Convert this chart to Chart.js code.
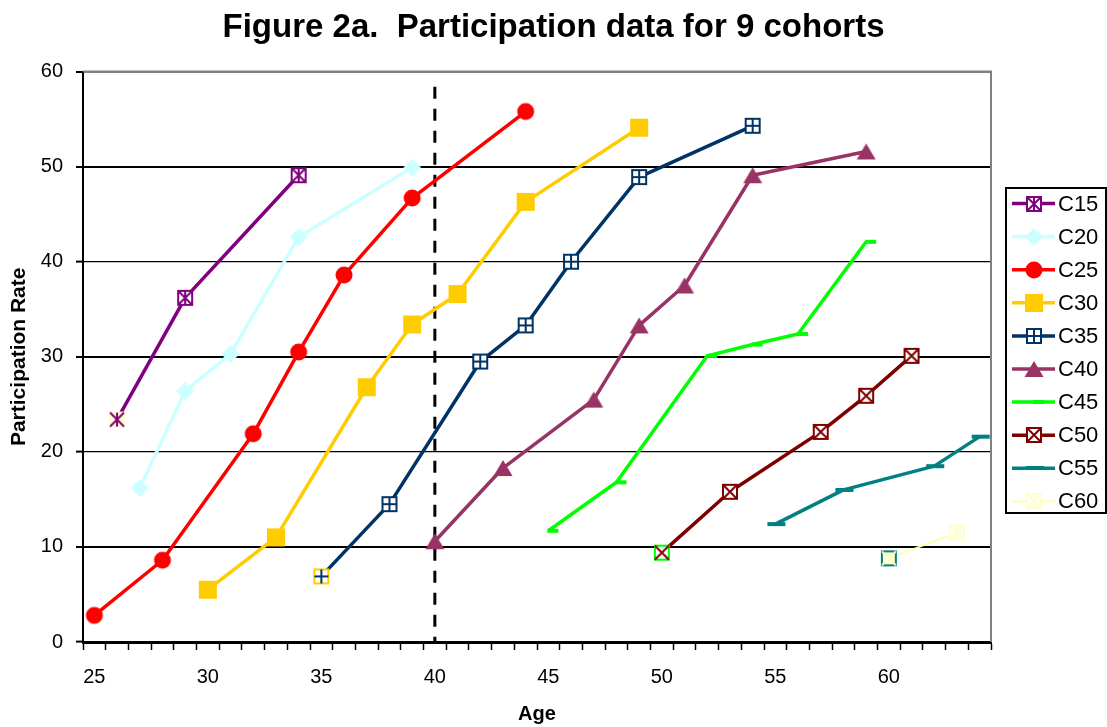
<!DOCTYPE html>
<html>
<head>
<meta charset="utf-8">
<title>Participation data for 9 cohorts</title>
<script src="https://cdn.jsdelivr.net/npm/chart.js@4.4.1/dist/chart.umd.min.js"></script>
<style>
  html, body { margin: 0; padding: 0; background: #ffffff; }
  #wrap { width: 1107px; height: 727px; position: relative; }
</style>
</head>
<body>
<div id="wrap"><canvas id="chart"></canvas></div>
<script>
// Age categories on the horizontal axis
const ageLabels = ['25','26','27','28','29','30','31','32','33','34',
                   '35','36','37','38','39','40','41','42','43','44',
                   '45','46','47','48','49','50','51','52','53','54',
                   '55','56','57','58','59','60','61','62','63','64'];

// Participation rate by age, one pair of arrays per cohort
const c15Ages = [26, 29, 34];
const c15Rates = [23.4, 36.2, 49.1];
const c20Ages = [27, 29, 31, 34, 39];
const c20Rates = [16.2, 26.4, 30.3, 42.6, 49.9];
const c25Ages = [25, 28, 32, 34, 36, 39, 44];
const c25Rates = [2.8, 8.6, 21.9, 30.5, 38.6, 46.7, 55.8];
const c30Ages = [30, 33, 37, 39, 41, 44, 49];
const c30Rates = [5.5, 11.0, 26.8, 33.4, 36.6, 46.3, 54.1];
const c35Ages = [35, 38, 42, 44, 46, 49, 54];
const c35Rates = [6.9, 14.5, 29.5, 33.3, 40.0, 48.9, 54.3];
const c40Ages = [40, 43, 47, 49, 51, 54, 59];
const c40Rates = [10.6, 18.3, 25.5, 33.3, 37.5, 49.1, 51.6];
const c45Ages = [45, 48, 52, 54, 56, 59];
const c45Rates = [11.7, 16.8, 30.1, 31.3, 32.4, 42.1];
const c50Ages = [50, 53, 57, 59, 61];
const c50Rates = [9.4, 15.8, 22.1, 25.9, 30.1];
const c55Ages = [55, 58, 62, 64];
const c55Rates = [12.4, 16.0, 18.5, 21.6];
const c60Ages = [60, 63];
const c60Rates = [8.8, 11.5];

const cohortNames = ['C15', 'C20', 'C25', 'C30', 'C35', 'C40', 'C45', 'C50', 'C55', 'C60'];
const cohortAges = [c15Ages, c20Ages, c25Ages, c30Ages, c35Ages, c40Ages, c45Ages, c50Ages, c55Ages, c60Ages];
const cohortRates = [c15Rates, c20Rates, c25Rates, c30Rates, c35Rates, c40Rates, c45Rates, c50Rates, c55Rates, c60Rates];

// Reference line at age 40
const guideAge = '40';
const guideTop = 58.4;

const FONT = "Arial, 'Liberation Sans', sans-serif";
Chart.defaults.font.family = FONT;
Chart.defaults.color = '#000000';

// ---- marker sprites -------------------------------------------------------
function sprite(paint) {
  const c = document.createElement('canvas');
  c.width = 24; c.height = 24;
  const g = c.getContext('2d');
  g.translate(12, 12);
  paint(g);
  return c;
}
function box(g, stroke, fill) {
  if (fill) { g.fillStyle = fill; g.fillRect(-7, -7, 14, 14); }
  g.lineWidth = 2; g.strokeStyle = stroke;
  g.strokeRect(-7, -7, 14, 14);
}
function strokes(g, color, kinds) {
  g.lineWidth = 2; g.strokeStyle = color; g.beginPath();
  if (kinds.indexOf('x') >= 0) { g.moveTo(-7, -7); g.lineTo(7, 7); g.moveTo(7, -7); g.lineTo(-7, 7); }
  if (kinds.indexOf('|') >= 0) { g.moveTo(0, -7); g.lineTo(0, 7); }
  if (kinds.indexOf('-') >= 0) { g.moveTo(-7, 0); g.lineTo(7, 0); }
  g.stroke();
}

const PURPLE = '#800080', CYAN = '#CCFFFF', RED = '#FF0000', GOLD = '#FFCC00', NAVY = '#003366',
      PLUM = '#993366', LIME = '#00FF00', MAROON = '#800000', TEAL = '#008080', CREAM = '#FFFFCC';

const markC15 = sprite(g => { box(g, PURPLE, '#FFFFFF'); strokes(g, PURPLE, 'x|'); });
const markC15First = sprite(g => { box(g, CREAM, CREAM); strokes(g, PURPLE, 'x|'); });
const markC20 = sprite(g => { g.fillStyle = CYAN; g.beginPath(); g.moveTo(0, -9); g.lineTo(9, 0); g.lineTo(0, 9); g.lineTo(-9, 0); g.closePath(); g.fill(); });
const markC25 = sprite(g => { g.fillStyle = RED; g.beginPath(); g.arc(0, 0, 8.5, 0, Math.PI * 2); g.fill(); });
const markC30 = sprite(g => { g.fillStyle = GOLD; g.fillRect(-9, -9, 18, 18); });
const markC35 = sprite(g => { box(g, NAVY, '#FFFFFF'); strokes(g, NAVY, '-|'); });
const markC35First = sprite(g => { box(g, GOLD, '#FFFFFF'); strokes(g, NAVY, '-|'); });
const markC40 = sprite(g => { g.fillStyle = PLUM; g.beginPath(); g.moveTo(0, -8); g.lineTo(9.5, 8); g.lineTo(-9.5, 8); g.closePath(); g.fill(); });
const markC45 = sprite(g => { g.fillStyle = LIME; g.fillRect(-1, -2, 11, 4); });
const markC50 = sprite(g => { box(g, MAROON, '#FFFFFF'); strokes(g, MAROON, 'x'); });
const markC50First = sprite(g => { box(g, LIME, '#FFFFFF'); strokes(g, MAROON, 'x'); });
const markC55 = sprite(g => { g.fillStyle = TEAL; g.fillRect(-8, -2, 18, 4); });
const markC60 = sprite(g => { box(g, CREAM, '#FFFFFF'); strokes(g, CREAM, 'x|'); });
const markC60First = sprite(g => { box(g, TEAL, CREAM); strokes(g, CREAM, 'x'); });

const styles = [
  { color: PURPLE, width: 3.5, mark: markC15, first: markC15First },
  { color: CYAN,   width: 3.5, mark: markC20, first: markC20 },
  { color: RED,    width: 3.5, mark: markC25, first: markC25 },
  { color: GOLD,   width: 3.5, mark: markC30, first: markC30 },
  { color: NAVY,   width: 3.5, mark: markC35, first: markC35First },
  { color: PLUM,   width: 3.5, mark: markC40, first: markC40 },
  { color: LIME,   width: 3.5, mark: markC45, first: markC45 },
  { color: MAROON, width: 3.5, mark: markC50, first: markC50First },
  { color: TEAL,   width: 3.5, mark: markC55, first: markC55 },
  { color: '#FFFFB0', width: 2, mark: markC60, first: markC60First }
];

const datasets = cohortNames.map((name, k) => {
  const st = styles[k];
  return {
    label: name,
    data: cohortAges[k].map((a, i) => ({ x: String(a), y: cohortRates[k][i] })),
    borderColor: st.color,
    backgroundColor: st.color,
    borderWidth: st.width,
    borderJoinStyle: 'round',
    tension: 0,
    fill: false,
    pointRadius: 8,
    pointHoverRadius: 8,
    pointStyle: cohortAges[k].map((a, i) => i === 0 ? st.first : st.mark),
    order: cohortNames.length - k
  };
});

// ---- legend panel on the right (its own layout box) ----------------------
const cohortLegend = {
  id: 'cohortLegend',
  beforeInit(chart) {
    const panel = {
      position: 'right', weight: 0, fullSize: false,
      options: {},
      width: 116, height: 0,
      isHorizontal() { return false; },
      update(maxWidth, maxHeight) { this.width = 116; this.height = maxHeight; },
      draw() {
        const ctx = chart.ctx;
        const left = this.left + 15, top = 188, right = this.left + 115, bottom = 513;
        ctx.save();
        ctx.fillStyle = '#FFFFFF';
        ctx.fillRect(left, top, right - left, bottom - top);
        ctx.lineWidth = 2; ctx.strokeStyle = '#000000';
        ctx.strokeRect(left, top, right - left, bottom - top);
        ctx.font = '22px ' + FONT;
        ctx.textBaseline = 'middle';
        ctx.textAlign = 'left';
        cohortNames.forEach((name, k) => {
          const st = styles[k];
          const y = 203.5 + k * 33.1;
          ctx.beginPath();
          ctx.lineWidth = st.width; ctx.strokeStyle = st.color;
          ctx.moveTo(left + 6, y); ctx.lineTo(left + 49, y);
          ctx.stroke();
          ctx.drawImage(st.mark, Math.round(left + 28 - 12), Math.round(y - 12));
          ctx.fillStyle = '#000000';
          ctx.fillText(name, left + 52, y + 1);
        });
        ctx.restore();
      }
    };
    Chart.layouts.addBox(chart, panel);
  }
};

// ---- plot frame and dashed guide ---------------------------------------------
const plotFrame = {
  id: 'plotFrame',
  beforeDatasetsDraw(chart) {
    const { ctx, chartArea: a, scales: { x, y } } = chart;
    ctx.save();
    ctx.strokeStyle = '#808080'; ctx.lineWidth = 2;
    ctx.beginPath();
    ctx.moveTo(a.left, a.top); ctx.lineTo(a.right, a.top); ctx.lineTo(a.right, a.bottom);
    ctx.stroke();
    const gx = x.getPixelForValue(x.getLabels().indexOf(guideAge));
    ctx.strokeStyle = '#000000'; ctx.lineWidth = 3;
    ctx.setLineDash([12, 10]);
    ctx.beginPath();
    ctx.moveTo(gx, y.getPixelForValue(guideTop)); ctx.lineTo(gx, a.bottom);
    ctx.stroke();
    ctx.restore();
  }
};

new Chart(document.getElementById('chart'), {
  type: 'line',
  data: { labels: ageLabels, datasets },
  options: {
    responsive: true,
    maintainAspectRatio: false,
    animation: false,
    devicePixelRatio: 1,
    layout: { padding: 0 },
    plugins: {
      legend: { display: false },
      tooltip: { enabled: false },
      title: {
        display: true,
        text: 'Figure 2a.  Participation data for 9 cohorts',
        color: '#000000',
        font: { size: 33, weight: 'bold', family: FONT },
        padding: { top: 8, bottom: 24 }
      }
    },
    scales: {
      x: {
        type: 'category',
        offset: true,
        grid: { offset: true, drawOnChartArea: false, drawTicks: true, tickLength: 8, tickColor: '#000000', tickWidth: 1.5, color: '#000000' },
        border: { display: true, color: '#000000', width: 3 },
        ticks: {
          autoSkip: false, maxRotation: 0, minRotation: 0, padding: 15, color: '#000000',
          font: { size: 20, family: FONT },
          callback(v, i) { const a = ageLabels[i]; return Number(a) % 5 === 0 ? a : ''; }
        },
        title: { display: true, text: 'Age', color: '#000000', font: { size: 20, weight: 'bold', family: FONT }, padding: { top: 0, bottom: 1 } },
        afterFit(s) { s.height = 85; }
      },
      y: {
        min: 0, max: 60,
        grid: {
          color: c => c.tick && c.tick.value === 60 ? '#808080' : '#000000',
          lineWidth: c => c.tick && (c.tick.value % 20 === 10 || c.tick.value === 60) ? 2 : 1.2,
          tickColor: '#000000', tickWidth: 2, tickLength: 7, drawTicks: true
        },
        border: { display: true, color: '#000000', width: 2 },
        ticks: { stepSize: 10, padding: 13, color: '#000000', font: { size: 20, family: FONT } },
        title: { display: true, text: 'Participation Rate', color: '#000000', font: { size: 21, weight: 'bold', family: FONT }, padding: { top: 7, bottom: 0 } },
        afterFit(s) { s.width = 83; }
      }
    }
  },
  plugins: [cohortLegend, plotFrame]
});
</script>
</body>
</html>
